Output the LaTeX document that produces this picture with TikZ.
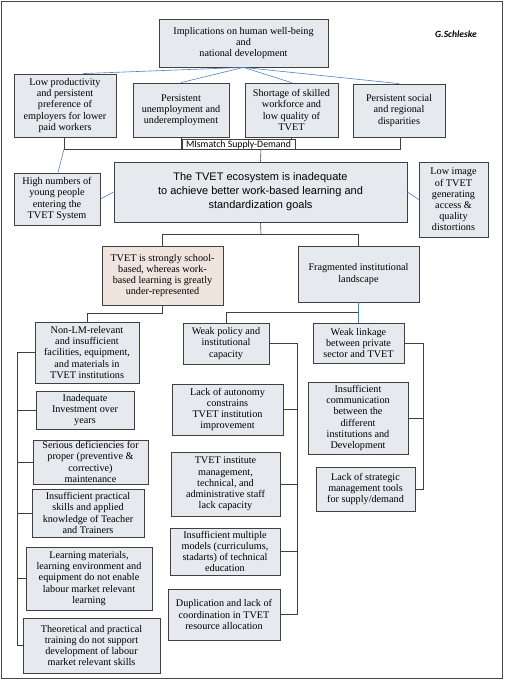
\documentclass[tikz,border=0pt]{standalone}
\usepackage{fontspec}
\setmainfont{Liberation Serif}
\setsansfont{Liberation Sans}
\newfontfamily\calfont{Carlito}
\usepackage{tikz}
\usetikzlibrary{calc}
\usetikzlibrary{shadows}

\definecolor{boxfill}{RGB}{230,234,238}
\definecolor{schoolfill}{RGB}{240,229,222}
\definecolor{boxline}{RGB}{64,64,64}
\definecolor{linkblue}{RGB}{79,129,189}
\definecolor{framegrey}{RGB}{70,70,70}

\begin{document}
\begin{tikzpicture}[x=1pt, y=-1pt,
    causebox/.style={draw=boxline, line width=0.8pt, fill=boxfill, align=center, inner sep=0pt,
        font=\fontsize{10.2}{11.2}\selectfont,
        drop shadow={shadow xshift=1.2pt, shadow yshift=-1.2pt, opacity=0.35}},
    bluelink/.style={draw=linkblue, line width=0.6pt},
    greylink/.style={draw=boxline, line width=0.6pt}]
    \useasboundingbox (0,0) rectangle (504,680);
    \draw[framegrey, line width=1.2pt] (1.5,1.5) rectangle (502.5,678.5);
    % top level
    \node [causebox, minimum width=169, minimum height=48] (impl) at (243.5,43) {Implications on human well-being\\and\\national development};
    \node [font=\calfont\bfseries\itshape\fontsize{9.5}{11}\selectfont] (author) at (456,34) {G.Schleske};
    \node [causebox, minimum width=102, minimum height=63] (lowprod) at (65,105.5) {Low productivity\\and persistent\\preference of\\employers for lower\\paid workers};
    \node [causebox, minimum width=96, minimum height=54] (unemp) at (181,110) {Persistent\\unemployment and\\underemployment};
    \node [causebox, minimum width=93, minimum height=54] (shortage) at (291.5,110) {Shortage of skilled\\workforce and\\low quality of\\TVET};
    \node [causebox, minimum width=92, minimum height=53] (social) at (399,110.5) {Persistent social\\and regional\\disparities};
    % core problem
    \node [causebox, minimum width=293, minimum height=60, font=\sffamily\fontsize{11}{14}\selectfont] (core) at (260.5,192) {The TVET ecosystem is inadequate\\to achieve better work-based learning and\\standardization goals};
    \node [causebox, minimum width=86, minimum height=52] (highnum) at (57,199) {High numbers of\\young people\\entering the\\TVET System};
    \node [causebox, minimum width=69, minimum height=75] (lowimage) at (453.5,199.5) {Low image\\of TVET\\generating\\access \&\\quality\\distortions};
    \node [causebox, fill=schoolfill, minimum width=121, minimum height=59] (school) at (162.5,275.5) {TVET is strongly school-\\based, whereas work-\\based learning is greatly\\under-represented};
    \node [causebox, minimum width=121, minimum height=56] (fragm) at (358.5,274) {Fragmented institutional\\landscape};
    % left column
    \node [causebox, minimum width=104, minimum height=61] (nonlm) at (87,352.5) {Non-LM-relevant\\and insufficient\\facilities, equipment,\\and materials in\\TVET institutions};
    \node [causebox, minimum width=98, minimum height=38] (invest) at (85,410) {Inadequate\\Investment over\\years};
    \node [causebox, minimum width=115, minimum height=44] (serious) at (90.5,462) {Serious deficiencies for\\proper (preventive \&\\corrective)\\maintenance};
    \node [causebox, minimum width=112, minimum height=48] (practical) at (88,513) {Insufficient practical\\skills and applied\\knowledge of Teacher\\and Trainers};
    \node [causebox, minimum width=126, minimum height=63] (learnmat) at (89,578.5) {Learning materials,\\learning environment and\\equipment do not enable\\labour market relevant\\learning};
    \node [causebox, minimum width=137, minimum height=55] (theory) at (91.5,645.5) {Theoretical and practical\\training do not support\\development of labour\\market relevant skills};
    % middle column
    \node [causebox, minimum width=86, minimum height=41] (policy) at (226,343.5) {Weak policy and\\institutional\\capacity};
    \node [causebox, minimum width=111, minimum height=51] (autonomy) at (227.5,409.5) {Lack of autonomy\\constrains\\TVET institution\\improvement};
    \node [causebox, minimum width=109, minimum height=64] (staff) at (225.5,484) {TVET institute\\management,\\technical, and\\administrative staff\\lack capacity};
    \node [causebox, minimum width=110, minimum height=47] (models) at (225,551.5) {Insufficient multiple\\models (curriculums,\\stadarts) of technical\\education};
    \node [causebox, minimum width=112, minimum height=51] (duplic) at (224,614.5) {Duplication and lack of\\coordination in TVET\\resource allocation};
    % right column
    \node [causebox, minimum width=91, minimum height=40] (linkage) at (358.5,343) {Weak linkage\\between private\\sector and TVET};
    \node [causebox, minimum width=100, minimum height=72] (communic) at (358,418) {Insufficient\\communication\\between the\\different\\institutions and\\Development};
    \node [causebox, minimum width=99, minimum height=44] (strategic) at (365.5,489) {Lack of strategic\\management tools\\for supply/demand};

    \coordinate (mismatch) at (261,149);
    \coordinate (split) at (261,234);
    \coordinate (lbar) at (17,0);
    \coordinate (mbar) at (297,0);
    \coordinate (rbar) at (423,0);

    % implications
    \draw[bluelink] (impl.south) -- ([xshift=18pt]lowprod.north);
    \draw[bluelink] (impl.south) -- (unemp.north);
    \draw[bluelink] (impl.south) -- (shortage.north);
    \draw[bluelink] (impl.south) -- (social.north);
    % mismatch
    \draw[greylink] ([xshift=-1pt]lowprod.south) |- (mismatch);
    \draw[greylink] ([xshift=1pt]social.south) |- (mismatch);
    \draw[greylink] (unemp.south) -- (unemp.south |- mismatch);
    \draw[greylink] (shortage.south) -- (shortage.south |- mismatch);
    \draw[greylink] (mismatch) -- (core.north);
    \node [draw=boxline, line width=0.5pt, fill=white, inner sep=0.6pt, minimum width=113, minimum height=9.5,
        font=\calfont\fontsize{9.8}{10}\selectfont] (mmlabel) at (238.5,144.5) {MIsmatch Supply-Demand};
    \draw[bluelink] ([xshift=-1pt]lowprod.south |- mismatch) -- ([xshift=1pt]highnum.north);
    \draw[bluelink] (highnum.east) -- (core.west);
    \draw[bluelink] (core.east) -- (lowimage.west);
    % causes
    \draw[greylink] (core.south) -- (split);
    \draw[greylink] (split) -| (school.north);
    \draw[greylink] (split) -| (fragm.north);
    \draw[greylink] (school.south) -- ++(0,8) -| (nonlm.north);
    \draw[greylink] (fragm.south) -- ++(0,10) -| (policy.north);
    \draw[bluelink] (fragm.south) -- (linkage.north);
    % brackets
    \draw[greylink] (nonlm.west) -- (nonlm.west -| lbar) |- (theory.west);
    \foreach \n in {invest,serious,practical,learnmat}
        \draw[greylink] (\n.west) -- (\n.west -| lbar);
    \draw[greylink] (policy.east) -- (policy.east -| mbar) |- (duplic.east);
    \foreach \n in {autonomy,staff,models}
        \draw[greylink] (\n.east) -- (\n.east -| mbar);
    \draw[greylink] (linkage.east) -- (linkage.east -| rbar) |- (strategic.east);
    \draw[greylink] (communic.east) -- (communic.east -| rbar);
\end{tikzpicture}
\end{document}
